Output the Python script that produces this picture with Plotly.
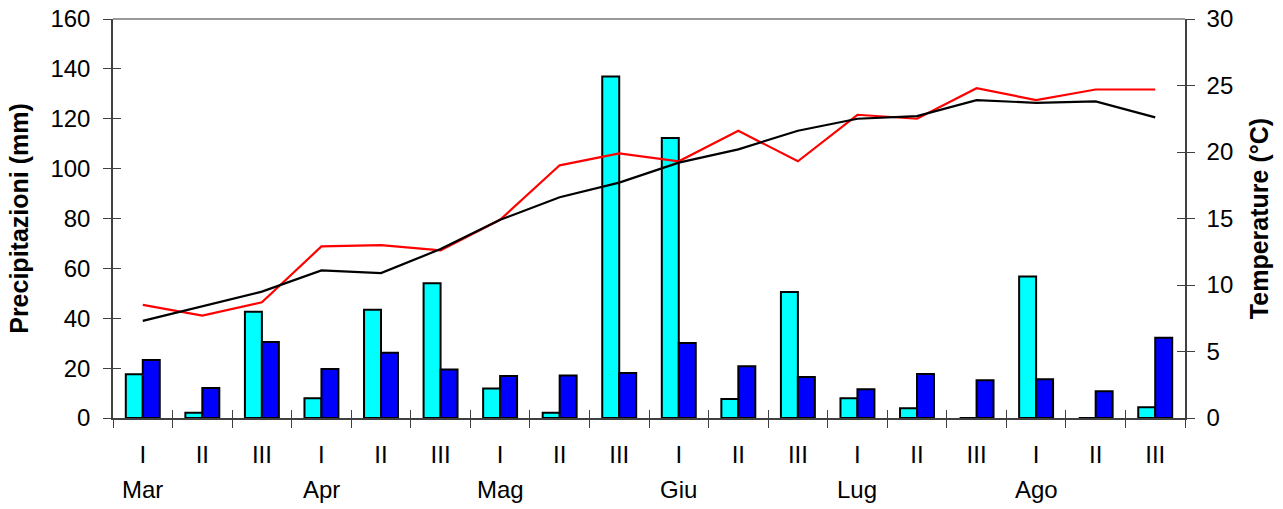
import plotly.graph_objects as go

months = ["Mar", "Apr", "Mag", "Giu", "Lug", "Ago"]
decadi = ["I", "II", "III"]
categories = [f"{m} {d}" for m in months for d in decadi]
tick_labels = decadi * len(months)

rain_a = [17.5, 2.1, 42.6, 7.9, 43.4, 54.0, 11.8, 2.1, 136.9, 112.3, 7.6, 50.5,
          7.9, 3.9, 0.0, 56.7, 0.0, 4.3]
rain_b = [23.3, 12.0, 30.5, 19.6, 26.2, 19.4, 16.8, 17.0, 18.0, 30.1, 20.8, 16.4,
          11.5, 17.6, 15.1, 15.5, 10.7, 32.2]
temp_red = [8.5, 7.7, 8.7, 12.9, 13.0, 12.6, 14.9, 19.0, 19.9, 19.3, 21.6, 19.3,
            22.8, 22.5, 24.8, 23.9, 24.7, 24.7]
temp_black = [7.3, 8.4, 9.5, 11.1, 10.9, 12.7, 14.9, 16.6, 17.7, 19.2, 20.2, 21.6,
              22.5, 22.7, 23.9, 23.7, 23.8, 22.6]

FONT = "Liberation Sans, Arial, sans-serif"
AX = "#404040"

fig = go.Figure()
fig.add_trace(go.Bar(x=categories, y=rain_a, name="Precipitazioni A",
                     marker=dict(color="#00FFFF", line=dict(color="black", width=2))))
fig.add_trace(go.Bar(x=categories, y=rain_b, name="Precipitazioni B",
                     marker=dict(color="#0000FF", line=dict(color="black", width=2))))
fig.add_trace(go.Scatter(x=categories, y=temp_red, yaxis="y2", mode="lines",
                         name="Temperatura A", line=dict(color="#FF0000", width=2.2)))
fig.add_trace(go.Scatter(x=categories, y=temp_black, yaxis="y2", mode="lines",
                         name="Temperatura B", line=dict(color="black", width=2.2)))

# empty helper traces so the overlay (tick-only) axes get drawn
for xa, ya in [("x2", "y"), ("x3", "y"), ("x", "y3"), ("x", "y4")]:
    fig.add_trace(go.Scatter(x=[], y=[], xaxis=xa, yaxis=ya, mode="lines",
                             hoverinfo="skip", showlegend=False))

n = len(categories)
boundaries = [i - 0.5 for i in range(n + 1)]

common = dict(showgrid=False, zeroline=False, automargin=False)

fig.update_layout(
    width=1283, height=509,
    margin=dict(l=113, r=98, t=19, b=91),
    barmode="group", bargap=0.43, bargroupgap=0,
    plot_bgcolor="white", paper_bgcolor="white",
    showlegend=False,
    font=dict(family=FONT, size=24, color="black"),
    xaxis=dict(type="category", categoryorder="array", categoryarray=categories,
               range=[-0.5, n - 0.5], tickmode="array", tickvals=categories,
               ticktext=tick_labels, ticks="", showline=True, linecolor=AX,
               linewidth=1.5, ticklabelstandoff=14, ticklabeloverflow="allow",
               **common),
    xaxis2=dict(overlaying="x", anchor="y", type="linear", range=[-0.5, n - 0.5],
                tickmode="array", tickvals=boundaries, ticks="outside", ticklen=9,
                tickcolor=AX, tickwidth=1, showticklabels=False, showline=False,
                **common),
    xaxis3=dict(overlaying="x", anchor="y", type="linear", range=[-0.5, n - 0.5],
                tickmode="array", tickvals=boundaries, ticks="inside", ticklen=8,
                tickcolor=AX, tickwidth=1, showticklabels=False, showline=False,
                **common),
    yaxis=dict(range=[0, 160], dtick=20, ticks="outside", ticklen=8, tickcolor=AX,
               showline=True, linecolor=AX, linewidth=1.5, ticklabelstandoff=8,
               ticklabeloverflow="allow",
               title=dict(text="Precipitazioni (mm)", standoff=15,
                          font=dict(size=25, weight="bold")), **common),
    yaxis3=dict(overlaying="y", anchor="x", side="left", range=[0, 160], dtick=20,
                ticks="inside", ticklen=8, tickcolor=AX, showticklabels=False,
                showline=False, **common),
    yaxis2=dict(overlaying="y", side="right", range=[0, 30], dtick=5,
                ticks="outside", ticklen=8, tickcolor=AX, showline=True,
                linecolor=AX, linewidth=1.5, ticklabelstandoff=7,
                ticklabeloverflow="allow",
                title=dict(text="Temperature (°C)", standoff=18,
                           font=dict(size=25, weight="bold")), **common),
    yaxis4=dict(overlaying="y", anchor="x", side="right", range=[0, 30], dtick=5,
                ticks="inside", ticklen=8, tickcolor=AX, showticklabels=False,
                showline=False, **common),
)

fig.add_shape(type="line", xref="paper", yref="paper", x0=0, x1=1, y0=1, y1=1,
              line=dict(color="#999999", width=2))

for i, m in enumerate(months):
    fig.add_annotation(x=categories[i * 3], xref="x", y=-0.178, yref="paper",
                       text=m, showarrow=False, yanchor="middle",
                       font=dict(family=FONT, size=24, color="black"))

fig.write_html(
    "out.html",
    config={"displayModeBar": False},
    post_script="document.body.style.margin='0px';document.body.style.overflow='hidden';",
)
